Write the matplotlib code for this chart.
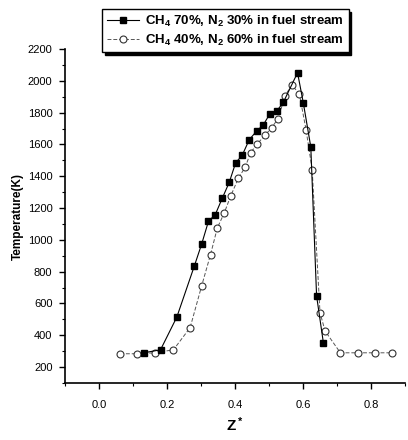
import matplotlib.pyplot as plt
from matplotlib.ticker import MultipleLocator

# CH4 70% / N2 30% (filled squares)
z_70 = [0.132, 0.181, 0.229, 0.280, 0.302, 0.322, 0.342, 0.363, 0.383, 0.402,
        0.421, 0.442, 0.464, 0.483, 0.503, 0.523, 0.542, 0.584, 0.601, 0.623,
        0.640, 0.660]
t_70 = [290, 309, 515, 833, 974, 1117, 1159, 1264, 1361, 1485,
        1531, 1630, 1685, 1722, 1794, 1811, 1864, 2051, 1861, 1584,
        648, 353]

# CH4 40% / N2 60% (open circles)
z_40 = [0.062, 0.111, 0.165, 0.219, 0.268, 0.302, 0.328, 0.348, 0.368, 0.387,
        0.410, 0.430, 0.446, 0.466, 0.488, 0.508, 0.527, 0.547, 0.567, 0.589,
        0.609, 0.627, 0.650, 0.665, 0.710, 0.762, 0.812, 0.862]
t_40 = [284, 284, 290, 309, 448, 711, 907, 1075, 1167, 1274,
        1388, 1457, 1548, 1605, 1657, 1706, 1763, 1905, 1973, 1920,
        1693, 1441, 543, 427, 290, 290, 290, 290]

label_70 = 'CH$_4$ 70%, N$_2$ 30% in fuel stream'
label_40 = 'CH$_4$ 40%, N$_2$ 60% in fuel stream'


def plot_data():
    plt.rcParams['font.family'] = ['Liberation Sans', 'DejaVu Sans']
    plt.rcParams['mathtext.fontset'] = 'custom'
    plt.rcParams['mathtext.rm'] = 'Liberation Sans:bold'
    plt.rcParams['mathtext.it'] = 'Liberation Sans:bold'
    plt.rcParams['mathtext.bf'] = 'Liberation Sans:bold'

    fig = plt.figure(figsize=(4.08, 4.4), dpi=100)
    ax = fig.add_axes([0.1593, 0.1295, 0.8333, 0.7591])

    ax.plot(z_70, t_70, color='black', lw=0.8, marker='s', ms=4.5,
            mfc='black', mec='black', label=label_70, zorder=3)
    ax.plot(z_40, t_40, color='#555555', lw=0.7, ls=(0, (4, 2)), marker='o',
            ms=5, mfc='white', mec='#333333', mew=0.8, label=label_40, zorder=2)

    ax.set_xlim(-0.1, 0.9)
    ax.set_ylim(100, 2200)
    ax.xaxis.set_major_locator(MultipleLocator(0.2))
    ax.xaxis.set_minor_locator(MultipleLocator(0.1))
    ax.yaxis.set_major_locator(MultipleLocator(200))
    ax.yaxis.set_minor_locator(MultipleLocator(100))
    ax.set_xticks([0.0, 0.2, 0.4, 0.6, 0.8])
    ax.set_xticklabels(['0.0', '0.2', '0.4', '0.6', '0.8'])

    for s in ['top', 'right']:
        ax.spines[s].set_visible(False)
    for s in ['left', 'bottom']:
        ax.spines[s].set_linewidth(1.2)

    ax.tick_params(which='major', direction='out', length=4, width=1,
                   labelsize=8, pad=5)
    ax.tick_params(which='minor', direction='out', length=2, width=0.8)
    ax.tick_params(axis='x', which='major', pad=8)

    ax.set_ylabel('Temperature(K)', fontsize=8.5, fontweight='bold', labelpad=3)
    ax.set_xlabel('Z$^*$', fontsize=11, fontweight='bold', labelpad=4)

    leg = fig.legend(loc='upper left', bbox_to_anchor=(0.235, 0.995),
                     prop={'size': 9.5, 'weight': 'bold'}, frameon=True,
                     fancybox=False, shadow={'color': 'black', 'alpha': 1},
                     handlelength=2.4, borderpad=0.35, labelspacing=0.3,
                     handletextpad=0.5)
    leg.get_frame().set_edgecolor('black')
    leg.get_frame().set_linewidth(1.0)

    fig.savefig('out.png', dpi=100)


def main():
    plot_data()


if __name__ == "__main__":
    main()
